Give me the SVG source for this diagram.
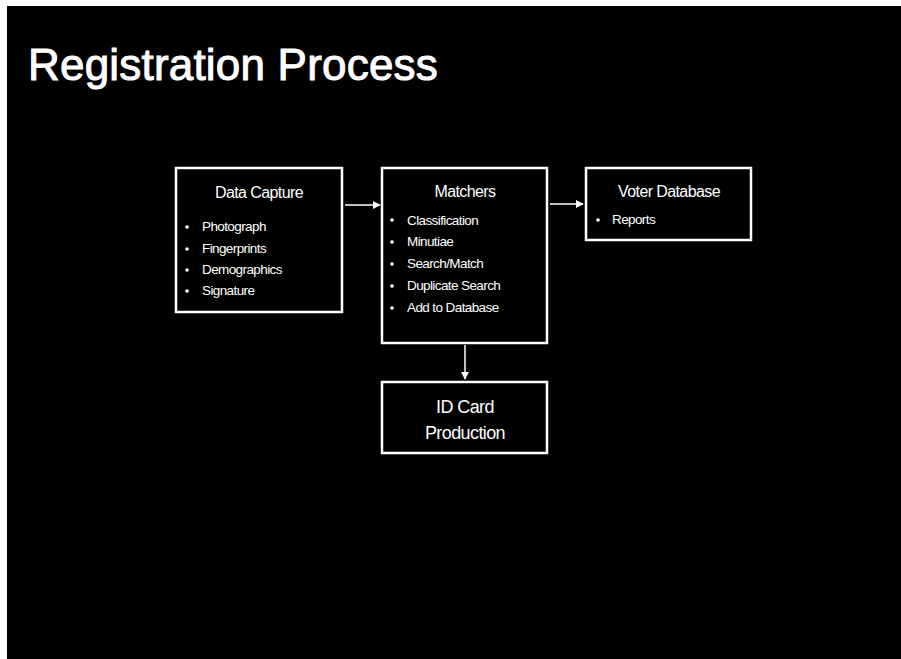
<svg xmlns="http://www.w3.org/2000/svg" width="901" height="659" viewBox="0 0 901 659">
  <defs>
    <style>
      .node { fill: #000; stroke: #fff; stroke-width: 2.5; }
      .head { font-family: "Liberation Sans", Arial, sans-serif; font-size: 16px; fill: #fff; text-anchor: middle; letter-spacing: -0.6px; }
      .item { font-family: "Liberation Sans", Arial, sans-serif; font-size: 13.5px; fill: #fff; letter-spacing: -0.6px; }
      .dot { fill: #fff; }
      .link { stroke: #fff; stroke-width: 1.5; fill: none; marker-end: url(#tip); }
    </style>
    <marker id="tip" viewBox="0 0 10 10" refX="9" refY="5" markerWidth="8" markerHeight="8" markerUnits="userSpaceOnUse" orient="auto">
      <path d="M0,0 L10,5 L0,10 Z" fill="#fff"/>
    </marker>
  </defs>

  <!-- slide background -->
  <rect x="0" y="0" width="901" height="659" fill="#fff"/>
  <rect x="7" y="6" width="894" height="653" fill="#000"/>

  <!-- title -->
  <text x="28" y="80" font-family="Liberation Sans, Arial, sans-serif" font-size="44" fill="#fff" stroke="#fff" stroke-width="1" letter-spacing="0.2">Registration Process</text>

  <!-- connectors -->
  <g id="connectors">
    <line class="link" x1="345" y1="205" x2="380" y2="205"/>
    <line class="link" x1="550" y1="204" x2="583" y2="204"/>
    <line class="link" x1="465" y1="345" x2="465" y2="379"/>
  </g>

  <g id="data-capture">
    <rect class="node" x="176" y="168" width="166" height="144"/>
    <text class="head" x="259" y="198">Data Capture</text>
    <circle class="dot" cx="187" cy="227" r="1.8"/>
    <text class="item" x="202" y="231">Photograph</text>
    <circle class="dot" cx="187" cy="249" r="1.8"/>
    <text class="item" x="202" y="253">Fingerprints</text>
    <circle class="dot" cx="187" cy="270" r="1.8"/>
    <text class="item" x="202" y="274">Demographics</text>
    <circle class="dot" cx="187" cy="291" r="1.8"/>
    <text class="item" x="202" y="295">Signature</text>
  </g>

  <g id="matchers">
    <rect class="node" x="382" y="168" width="165" height="175"/>
    <text class="head" x="465" y="197">Matchers</text>
    <circle class="dot" cx="392" cy="220" r="1.8"/>
    <text class="item" x="407" y="225">Classification</text>
    <circle class="dot" cx="392" cy="242" r="1.8"/>
    <text class="item" x="407" y="246">Minutiae</text>
    <circle class="dot" cx="392" cy="264" r="1.8"/>
    <text class="item" x="407" y="268">Search/Match</text>
    <circle class="dot" cx="392" cy="286" r="1.8"/>
    <text class="item" x="407" y="290">Duplicate Search</text>
    <circle class="dot" cx="392" cy="308" r="1.8"/>
    <text class="item" x="407" y="312">Add to Database</text>
  </g>

  <g id="voter-database">
    <rect class="node" x="586" y="168" width="165" height="72"/>
    <text class="head" x="669" y="197">Voter Database</text>
    <circle class="dot" cx="598" cy="220" r="1.8"/>
    <text class="item" x="612" y="224">Reports</text>
  </g>

  <g id="id-card">
    <rect class="node" x="382" y="382" width="165" height="71"/>
    <text class="head" x="465" y="413" style="font-size:18px">ID Card</text>
    <text class="head" x="465" y="439" style="font-size:18px">Production</text>
  </g>
</svg>
